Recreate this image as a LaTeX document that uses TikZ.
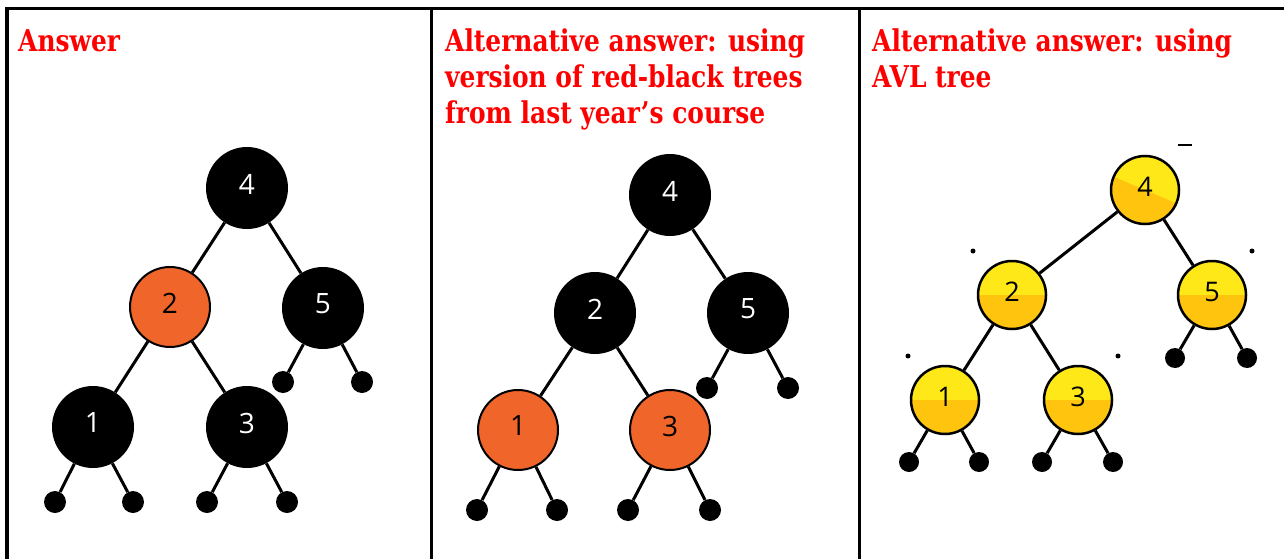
\documentclass[tikz,border=0pt]{standalone}
\usepackage{fontspec}
\usepackage{tikz}
\newfontfamily\headfont{DejaVu Serif}[FakeStretch=0.83]
\newfontfamily\keyfont{Open Sans}
\definecolor{headred}{RGB}{255,0,0}
\definecolor{rbred}{RGB}{240,101,41}
\definecolor{avllight}{RGB}{255,232,24}
\definecolor{avldark}{RGB}{255,196,14}
\tikzset{
  head/.style = {font=\headfont\bfseries\fontsize{30}{36}\selectfont, text=headred,
                 align=left, inner sep=0, anchor=base west},
  key/.style = {circle, inner sep=0, font=\keyfont\fontsize{28}{28}\selectfont},
  bnode/.style = {key, fill=black, text=white, minimum size=82, text depth=8},
  rnode/.style = {key, fill=rbred, draw=black, line width=2, minimum size=80, text depth=8},
  % lower part of an AVL node in the darker yellow, tilted by #1 degrees
  anode/.style = {key, fill=avllight, draw=black, line width=2.5, minimum size=68, text depth=6,
                  font=\keyfont\fontsize{27}{27}\selectfont,
                  path picture={\fill[avldark] (path picture bounding box.center)
                                ++(180+#1:60) -- ++(#1:120) -- ++(90+#1:60) -- ++(180+#1:120) -- cycle;}},
  anode/.default = 0,
  leaf/.style = {circle, fill=black, inner sep=0, minimum size=22},
  edge/.style = {line width=3},
  rule/.style = {line width=3.5}
}

\begin{document}
\begin{tikzpicture}[x=1pt, y=-1pt]
  \useasboundingbox (0,0) rectangle (1284,559);

  % table
  \draw [rule] (1284,8.5) -- (7,8.5) -- (7,559);
  \draw [rule] (431.5,8.5) -- (431.5,559);
  \draw [rule] (859.5,8.5) -- (859.5,559);

  % headings, placed by the baseline of their last line
  \node [head] (t1) at (18,52) {Answer};
  \node [head] (t2) at (445,124) {Alternative answer: using\\version of red-black trees\\from last year’s course};
  \node [head] (t3) at (872,88) {Alternative answer: using\\AVL tree};

  % answer
  \node [bnode] (a4) at (247, 188) {4};
  \node [rnode] (a2) at (170, 307) {2};
  \node [bnode] (a5) at (323, 308) {5};
  \node [bnode] (a1) at (93, 427) {1};
  \node [bnode] (a3) at (247, 427) {3};
  \node [leaf] (a5l) at (283, 382) {};
  \node [leaf] (a5r) at (362, 382) {};
  \node [leaf] (a1l) at (55, 502) {};
  \node [leaf] (a1r) at (133, 502) {};
  \node [leaf] (a3l) at (207, 502) {};
  \node [leaf] (a3r) at (287, 502) {};

  \draw [edge] (a2) -- (a4) -- (a5);
  \draw [edge] (a1) -- (a2) -- (a3);
  \draw [edge] (a5l) -- (a5) -- (a5r);
  \draw [edge] (a1l) -- (a1) -- (a1r);
  \draw [edge] (a3l) -- (a3) -- (a3r);

  % red-black, old version
  \node [bnode] (b4) at (670, 195) {4};
  \node [bnode] (b2) at (595, 313) {2};
  \node [bnode] (b5) at (748, 313) {5};
  \node [rnode] (b1) at (518, 430) {1};
  \node [rnode] (b3) at (670, 430) {3};
  \node [leaf] (b5l) at (707, 388) {};
  \node [leaf] (b5r) at (788, 388) {};
  \node [leaf] (b1l) at (477, 510) {};
  \node [leaf] (b1r) at (557, 510) {};
  \node [leaf] (b3l) at (628, 510) {};
  \node [leaf] (b3r) at (710, 510) {};

  \draw [edge] (b2) -- (b4) -- (b5);
  \draw [edge] (b1) -- (b2) -- (b3);
  \draw [edge] (b5l) -- (b5) -- (b5r);
  \draw [edge] (b1l) -- (b1) -- (b1r);
  \draw [edge] (b3l) -- (b3) -- (b3r);

  % AVL
  \node [anode=23] (c4) at (1145, 190) {4};
  \node [anode] (c2) at (1012, 295) {2};
  \node [anode] (c5) at (1212, 295) {5};
  \node [anode] (c1) at (945, 400) {1};
  \node [anode] (c3) at (1078, 400) {3};
  \node [leaf, minimum size=20] (c5l) at (1175, 358) {};
  \node [leaf, minimum size=20] (c5r) at (1247, 358) {};
  \node [leaf, minimum size=20] (c1l) at (909, 462) {};
  \node [leaf, minimum size=20] (c1r) at (979, 462) {};
  \node [leaf, minimum size=20] (c3l) at (1042, 462) {};
  \node [leaf, minimum size=20] (c3r) at (1113, 462) {};

  \draw [edge] (c2) -- (c4) -- (c5);
  \draw [edge] (c1) -- (c2) -- (c3);
  \draw [edge] (c5l) -- (c5) -- (c5r);
  \draw [edge] (c1l) -- (c1) -- (c1r);
  \draw [edge] (c3l) -- (c3) -- (c3r);

  \fill (973, 251) circle (2.5);
  \fill (1252, 251) circle (2.5);
  \fill (908, 356) circle (2.5);
  \fill (1118, 356) circle (2.5);
  \draw [line width=2] (1178, 145) -- (1192, 145);
\end{tikzpicture}
\end{document}
